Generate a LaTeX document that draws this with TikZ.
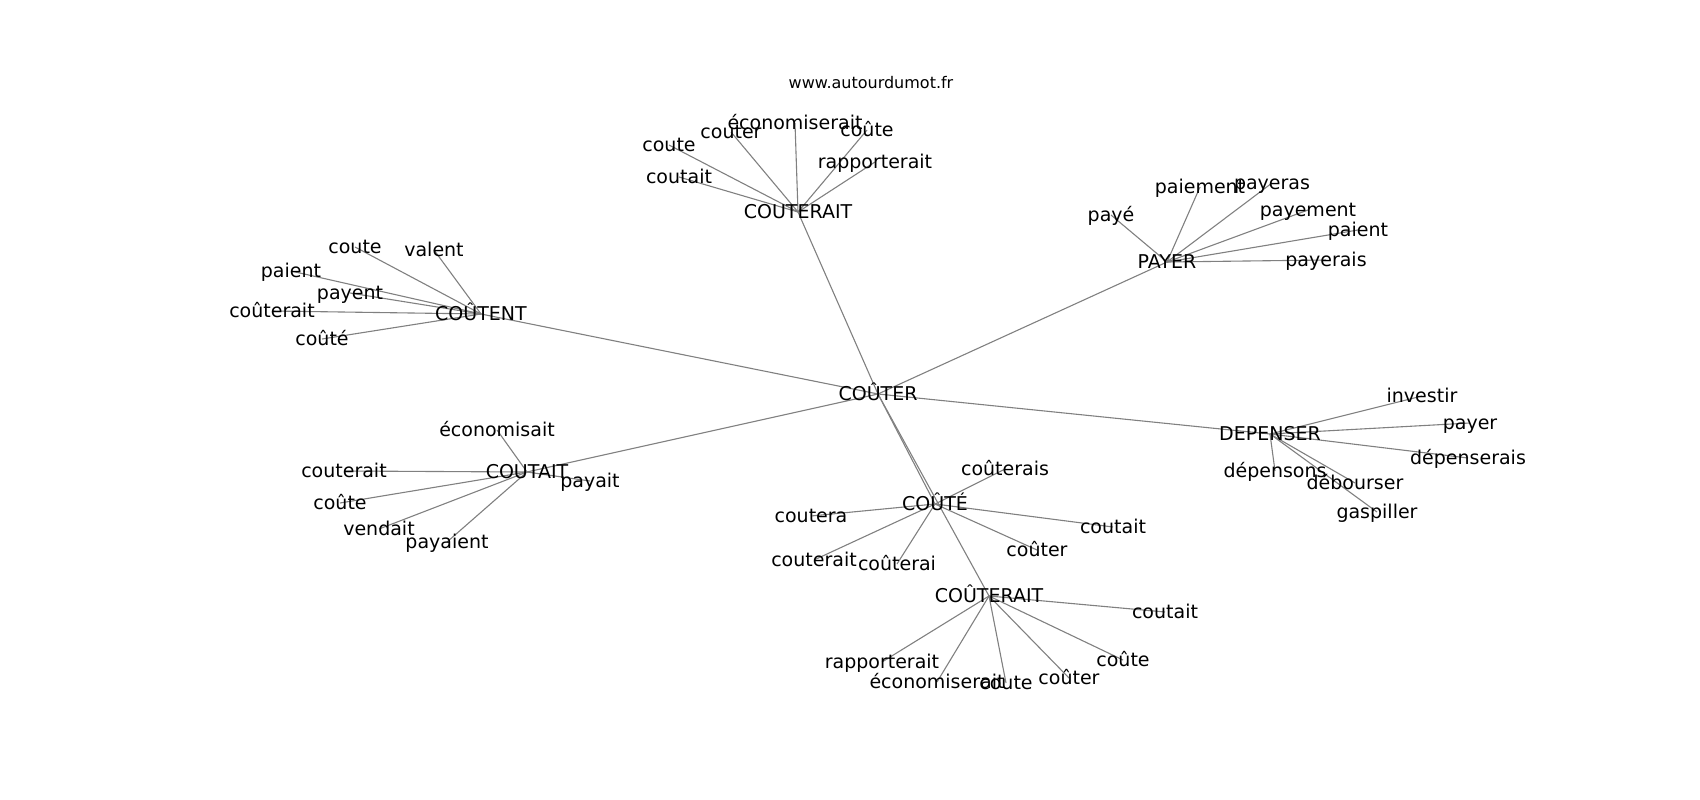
\documentclass[tikz,border=0pt]{standalone}
\usepackage{fontspec}
\setmainfont{DejaVu Sans}
\usetikzlibrary{backgrounds}

\begin{document}
\begin{tikzpicture}[x=1pt, y=-1pt,
  word/.style = {inner sep=0pt, text height=14pt, text depth=2pt, font=\fontsize{19}{22}\selectfont},
  link/.style = {draw=gray, line width=1.1pt}]
	\useasboundingbox (0,0) rectangle (1700,800);
	\node (site) at (871,83) {\fontsize{16}{19}\selectfont www.autourdumot.fr};
	% hubs
	\node[word] (couter) at (878,394) {COÛTER};
	\node[word] (couterait) at (798,212) {COUTERAIT};
	\node[word] (coutent) at (481,314) {COÛTENT};
	\node[word] (payer) at (1167,262) {PAYER};
	\node[word] (depenser) at (1270,434) {DEPENSER};
	\node[word] (coutait) at (527,472) {COUTAIT};
	\node[word] (coute) at (935,504) {COÛTÉ};
	\node[word] (couteraitb) at (989,596) {COÛTERAIT};
	% COUTERAIT
	\node[word] (ca-coute) at (669,145) {coute};
	\node[word] (ca-couter) at (731,132) {couter};
	\node[word] (ca-econ) at (795,123) {économiserait};
	\node[word] (ca-coute2) at (867,130) {coûte};
	\node[word] (ca-rapp) at (875,162) {rapporterait};
	\node[word] (ca-coutait) at (679,177) {coutait};
	% COÛTENT
	\node[word] (ct-coute) at (355,247) {coute};
	\node[word] (ct-valent) at (434,250) {valent};
	\node[word] (ct-paient) at (291,271) {paient};
	\node[word] (ct-payent) at (350,293) {payent};
	\node[word] (ct-couterait) at (272,311) {coûterait};
	\node[word] (ct-coute2) at (322,339) {coûté};
	% PAYER
	\node[word] (py-paye) at (1111,215) {payé};
	\node[word] (py-paiement) at (1200,187) {paiement};
	\node[word] (py-payeras) at (1272,183) {payeras};
	\node[word] (py-payement) at (1308,210) {payement};
	\node[word] (py-paient) at (1358,230) {paient};
	\node[word] (py-payerais) at (1326,260) {payerais};
	% DEPENSER
	\node[word] (dp-investir) at (1422,396) {investir};
	\node[word] (dp-payer) at (1470,423) {payer};
	\node[word] (dp-depenserais) at (1468,458) {dépenserais};
	\node[word] (dp-depensons) at (1275,471) {dépensons};
	\node[word] (dp-debourser) at (1355,483) {débourser};
	\node[word] (dp-gaspiller) at (1377,512) {gaspiller};
	% COUTAIT
	\node[word] (cs-econ) at (497,430) {économisait};
	\node[word] (cs-couterait) at (344,471) {couterait};
	\node[word] (cs-coute) at (340,503) {coûte};
	\node[word] (cs-vendait) at (379,529) {vendait};
	\node[word] (cs-payaient) at (447,542) {payaient};
	\node[word] (cs-payait) at (590,481) {payait};
	% COÛTÉ
	\node[word] (ce-couterais) at (1005,469) {coûterais};
	\node[word] (ce-coutera) at (811,516) {coutera};
	\node[word] (ce-couterait) at (814,560) {couterait};
	\node[word] (ce-couterai) at (897,564) {coûterai};
	\node[word] (ce-couter) at (1037,550) {coûter};
	\node[word] (ce-coutait) at (1113,527) {coutait};
	% COÛTERAIT
	\node[word] (cb-coutait) at (1165,612) {coutait};
	\node[word] (cb-coute) at (1123,660) {coûte};
	\node[word] (cb-couter) at (1069,678) {coûter};
	\node[word] (cb-coute2) at (1006,683) {coute};
	\node[word] (cb-econ) at (937,682) {économiserait};
	\node[word] (cb-rapp) at (882,662) {rapporterait};
	\begin{scope}[on background layer]
		\foreach \w in {couterait,coutent,payer,depenser,coutait,coute,couteraitb}
			\draw[link] (couter.center) -- (\w.center);
		\foreach \w in {ca-coute,ca-couter,ca-econ,ca-coute2,ca-rapp,ca-coutait}
			\draw[link] (couterait.center) -- (\w.center);
		\foreach \w in {ct-coute,ct-valent,ct-paient,ct-payent,ct-couterait,ct-coute2}
			\draw[link] (coutent.center) -- (\w.center);
		\foreach \w in {py-paye,py-paiement,py-payeras,py-payement,py-paient,py-payerais}
			\draw[link] (payer.center) -- (\w.center);
		\foreach \w in {dp-investir,dp-payer,dp-depenserais,dp-depensons,dp-debourser,dp-gaspiller}
			\draw[link] (depenser.center) -- (\w.center);
		\foreach \w in {cs-econ,cs-couterait,cs-coute,cs-vendait,cs-payaient,cs-payait}
			\draw[link] (coutait.center) -- (\w.center);
		\foreach \w in {ce-couterais,ce-coutera,ce-couterait,ce-couterai,ce-couter,ce-coutait}
			\draw[link] (coute.center) -- (\w.center);
		\foreach \w in {cb-coutait,cb-coute,cb-couter,cb-coute2,cb-econ,cb-rapp}
			\draw[link] (couteraitb.center) -- (\w.center);
	\end{scope}
\end{tikzpicture}
\end{document}
